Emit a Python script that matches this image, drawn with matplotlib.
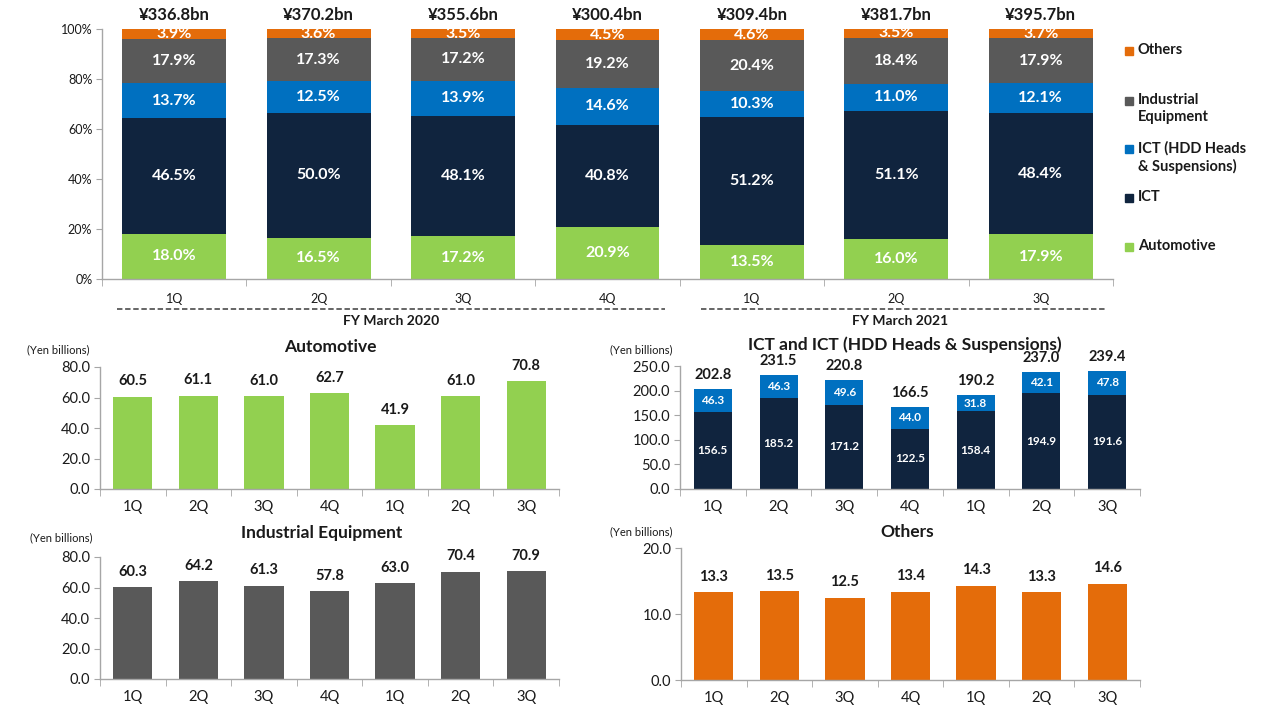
import matplotlib
matplotlib.use("Agg")
import matplotlib.pyplot as plt
from matplotlib.patches import Rectangle
from matplotlib.lines import Line2D
import numpy as np

plt.rcParams['font.family'] = ['Lato', 'DejaVu Sans']

# ---------------- data ----------------
quarters = ["1Q", "2Q", "3Q", "4Q", "1Q", "2Q", "3Q"]
totals_bn = [336.8, 370.2, 355.6, 300.4, 309.4, 381.7, 395.7]
share_auto = [18.0, 16.5, 17.2, 20.9, 13.5, 16.0, 17.9]
share_ict = [46.5, 50.0, 48.1, 40.8, 51.2, 51.1, 48.4]
share_hdd = [13.7, 12.5, 13.9, 14.6, 10.3, 11.0, 12.1]
share_ind = [17.9, 17.3, 17.2, 19.2, 20.4, 18.4, 17.9]
share_oth = [3.9, 3.6, 3.5, 4.5, 4.6, 3.5, 3.7]

auto_sales = [60.5, 61.1, 61.0, 62.7, 41.9, 61.0, 70.8]
ict_sales = [156.5, 185.2, 171.2, 122.5, 158.4, 194.9, 191.6]
hdd_sales = [46.3, 46.3, 49.6, 44.0, 31.8, 42.1, 47.8]
ict_totals = [202.8, 231.5, 220.8, 166.5, 190.2, 237.0, 239.4]
ind_sales = [60.3, 64.2, 61.3, 57.8, 63.0, 70.4, 70.9]
oth_sales = [13.3, 13.5, 12.5, 13.4, 14.3, 13.3, 14.6]

fy_labels = ["FY March 2020", "FY March 2021"]
legend_labels = ["Others", "Industrial\nEquipment", "ICT (HDD Heads\n& Suspensions)", "ICT", "Automotive"]

C_OTH = "#E46C0A"
C_IND = "#595959"
C_HDD = "#0070C0"
C_ICT = "#10243E"
C_AUTO = "#92D050"
SPINE = "#A6A6A6"
TXT = "#1A1A1A"

W, H = 1267, 713
fig = plt.figure(figsize=(W / 100, H / 100), dpi=100)


def fx(x):
    return x / W


def fy(y):
    return 1 - y / H


def add_ax(x0, y0, x1, y1):
    return fig.add_axes([fx(x0), fy(y1), fx(x1) - fx(x0), (y1 - y0) / H])


def style_ax(ax, n, ylabelsize, xlabelsize):
    for s in ["top", "right"]:
        ax.spines[s].set_visible(False)
    for s in ["left", "bottom"]:
        ax.spines[s].set_color(SPINE)
        ax.spines[s].set_linewidth(1.0)
    ax.set_xlim(-0.5, n - 0.5)
    ax.set_xticks(np.arange(n))
    ax.set_xticklabels(quarters, fontsize=xlabelsize, color=TXT)
    ax.set_xticks(np.arange(n + 1) - 0.5, minor=True)
    ax.tick_params(axis="x", which="major", length=0, pad=8)
    ax.tick_params(axis="x", which="minor", length=5, color=SPINE, direction="out")
    ax.tick_params(axis="y", length=4, color=SPINE, direction="out", labelsize=ylabelsize,
                   labelcolor=TXT, pad=3)


n = len(quarters)
x = np.arange(n)

# ---------------- top stacked 100% chart ----------------
ax = add_ax(102, 29, 1113, 279)
series = [(share_auto, C_AUTO), (share_ict, C_ICT), (share_hdd, C_HDD),
          (share_ind, C_IND), (share_oth, C_OTH)]
bottom = np.zeros(n)
for vals, col in series:
    v = np.array(vals)
    ax.bar(x, v, 0.72, bottom=bottom, color=col, zorder=2)
    for i in range(n):
        ax.text(x[i], bottom[i] + v[i] / 2, f"{v[i]:.1f}%", ha="center", va="center",
                color="white", fontsize=11.5, fontweight="bold", zorder=3)
    bottom = bottom + v
for i in range(n):
    ax.annotate(f"¥{totals_bn[i]:.1f}bn", (x[i], 100), xytext=(0, 4.5),
                textcoords="offset points", ha="center", va="bottom", color=TXT,
                fontsize=12, fontweight="bold", annotation_clip=False)
ax.set_ylim(0, 100)
ax.set_yticks(np.arange(0, 101, 20))
ax.set_yticklabels([f"{t}%" for t in range(0, 101, 20)])
style_ax(ax, n, 9, 9)
ax.tick_params(axis="x", which="major", pad=10)

# FY lines and labels
fig.add_artist(Line2D([fx(117), fx(665)], [fy(309), fy(309)], color="#595959",
                      lw=1.3, ls=(0, (3, 1.5))))
fig.add_artist(Line2D([fx(701), fx(1105)], [fy(309), fy(309)], color="#595959",
                      lw=1.3, ls=(0, (3, 1.5))))
fig.text(fx(391), fy(321), fy_labels[0], ha="center", va="center", fontsize=10,
         fontweight="bold", color=TXT)
fig.text(fx(900), fy(321), fy_labels[1], ha="center", va="center", fontsize=10,
         fontweight="bold", color=TXT)

# legend
leg_cols = [C_OTH, C_IND, C_HDD, C_ICT, C_AUTO]
leg_y = [51, 101, 149, 198, 247]
for lab, col, yy in zip(legend_labels, leg_cols, leg_y):
    fig.patches.append(Rectangle((fx(1125), fy(yy + 4)), 8 / W, 8 / H, color=col,
                                 transform=fig.transFigure, figure=fig))
    fig.text(fx(1138), fy(yy - 8), lab, ha="left", va="top", fontsize=10.5,
             fontweight="bold", color=TXT, linespacing=1.3)


def simple_bar(x0, y0, x1, y1, vals, col, ymax, step, title, title_xy, yb_xy):
    a = add_ax(x0, y0, x1, y1)
    a.bar(x, vals, 0.6, color=col, zorder=2)
    for i, v in enumerate(vals):
        a.annotate(f"{v:.1f}", (x[i], v), xytext=(0, 6), textcoords="offset points",
                   ha="center", va="bottom", fontsize=10.5, fontweight="bold", color=TXT)
    a.set_ylim(0, ymax)
    ticks = np.arange(0, ymax + 0.01, step)
    a.set_yticks(ticks)
    a.set_yticklabels([f"{t:.1f}" for t in ticks])
    style_ax(a, n, 10.5, 10.5)
    fig.text(fx(title_xy[0]), fy(title_xy[1]), title, ha="center", va="center",
             fontsize=12.5, fontweight="bold", color=TXT)
    fig.text(fx(yb_xy[0]), fy(yb_xy[1]), "(Yen billions)", ha="left", va="center",
             fontsize=8, color=TXT)
    return a


simple_bar(100, 367, 559, 489, auto_sales, C_AUTO, 80, 20, "Automotive", (330, 347), (27, 350))
simple_bar(100, 557, 559, 679, ind_sales, C_IND, 80, 20, "Industrial Equipment", (322, 533), (30, 538))
simple_bar(681, 548, 1140, 680, oth_sales, C_OTH, 20, 10, "Others", (907, 532), (610, 532))

# ICT chart
a = add_ax(680, 366, 1140, 489)
ict = np.array(ict_sales)
hdd = np.array(hdd_sales)
a.bar(x, ict, 0.58, color=C_ICT, zorder=2)
a.bar(x, hdd, 0.58, bottom=ict, color=C_HDD, zorder=2)
for i in range(n):
    a.text(x[i], ict[i] / 2, f"{ict[i]:.1f}", ha="center", va="center", color="white",
           fontsize=8.5, fontweight="bold")
    a.text(x[i], ict[i] + hdd[i] / 2, f"{hdd[i]:.1f}", ha="center", va="center",
           color="white", fontsize=8.5, fontweight="bold")
    a.annotate(f"{ict_totals[i]:.1f}", (x[i], ict_totals[i]), xytext=(0, 5),
               textcoords="offset points", ha="center", va="bottom", fontsize=10.5,
               fontweight="bold", color=TXT)
a.set_ylim(0, 250)
tk = np.arange(0, 251, 50)
a.set_yticks(tk)
a.set_yticklabels([f"{t:.1f}" for t in tk])
style_ax(a, n, 10.5, 10.5)
fig.text(fx(905), fy(345), "ICT and ICT (HDD Heads & Suspensions)", ha="center",
         va="center", fontsize=12.5, fontweight="bold", color=TXT)
fig.text(fx(610), fy(350), "(Yen billions)", ha="left", va="center", fontsize=8, color=TXT)

fig.savefig("out.png", dpi=100)
